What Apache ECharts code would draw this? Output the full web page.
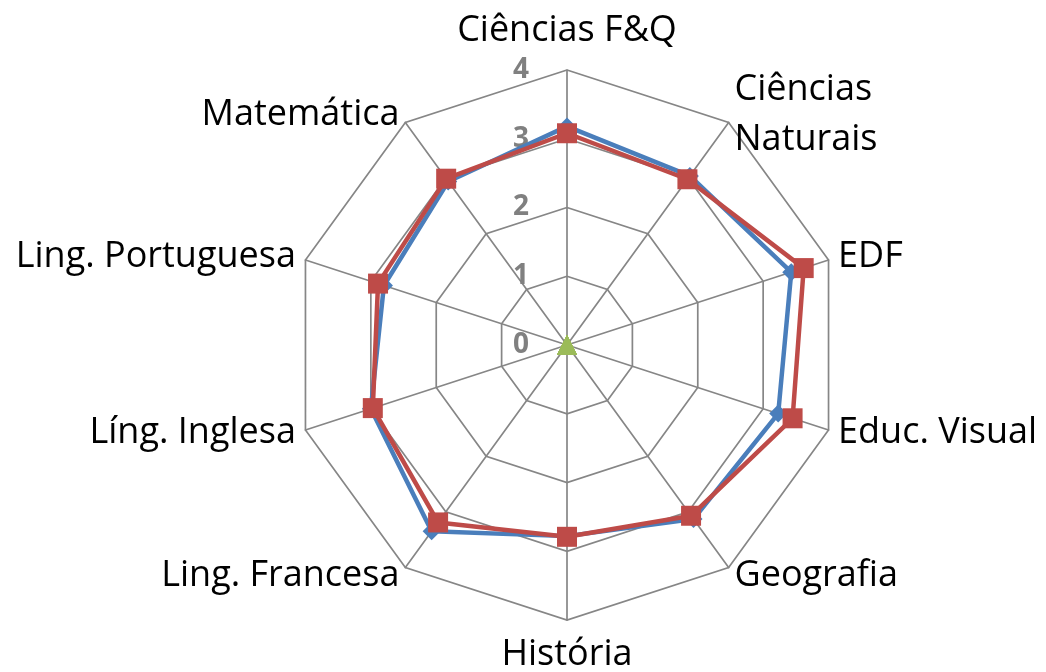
<!DOCTYPE html>
<html>
<head>
<meta charset="utf-8">
<script src="https://cdn.jsdelivr.net/npm/echarts@6/dist/echarts.min.js"></script>
<style>
  html, body { margin: 0; padding: 0; background: #fff; }
  #chart { width: 1046px; height: 672px; }
</style>
</head>
<body>
<div id="chart"></div>
<script>
// disciplines, in drawing order (counterclockwise from the top)
let categories = ['Ciências F&Q', 'Matemática', 'Ling. Portuguesa', 'Líng. Inglesa', 'Ling. Francesa',
  'História', 'Geografia', 'Educ. Visual', 'EDF', 'Ciências\nNaturais']
let serieA = [3.18, 2.94, 2.80, 3.00, 3.35, 2.78, 3.13, 3.23, 3.43, 3.04]
let serieB = [3.08, 2.99, 2.89, 2.97, 3.19, 2.79, 3.07, 3.45, 3.62, 2.98]
let serieC = [0, 0, 0, 0, 0, 0, 0, 0, 0, 0]
let tickMax = 4

let myChart = echarts.init(document.getElementById('chart'))
let grey = '#868686'
let option = {
  animation: false,
  radar: {
    center: [567, 345],
    radius: 275,
    shape: 'polygon',
    splitNumber: 4,
    startAngle: 90,
    axisName: {
      color: '#000',
      fontFamily: 'Open Sans',
      fontSize: 36,
      lineHeight: 50
    },
    nameGap: 10,
    splitLine: { lineStyle: { color: grey, width: 1.7 } },
    splitArea: { show: false },
    axisLine: { lineStyle: { color: grey, width: 1.7 } },
    axisTick: { show: false },
    axisLabel: {
      show: false,
      color: '#808080',
      fontFamily: 'Open Sans',
      fontWeight: 'bold',
      fontSize: 28,
      margin: 38
    },
    indicator: categories.map(function (name, i) {
      let ind = { name: name, min: 0, max: tickMax }
      if (i === 0) ind.axisLabel = { show: true }
      return ind
    })
  },
  series: [
    {
      name: 'Série 1',
      type: 'radar',
      symbol: 'diamond',
      symbolSize: 18,
      lineStyle: { color: '#4a7ebb', width: 4.5 },
      itemStyle: { color: '#4a7ebb' },
      data: [{ value: serieA }]
    },
    {
      name: 'Série 2',
      type: 'radar',
      symbol: 'rect',
      symbolSize: 20,
      lineStyle: { color: '#be4b48', width: 4.5 },
      itemStyle: { color: '#be4b48' },
      data: [{ value: serieB }]
    },
    {
      name: 'Série 3',
      type: 'radar',
      symbol: 'triangle',
      symbolSize: 20,
      lineStyle: { color: '#9bbb59', width: 4.5 },
      itemStyle: { color: '#9bbb59' },
      data: [{ value: serieC }]
    }
  ]
}
myChart.setOption(option)
</script>
</body>
</html>
